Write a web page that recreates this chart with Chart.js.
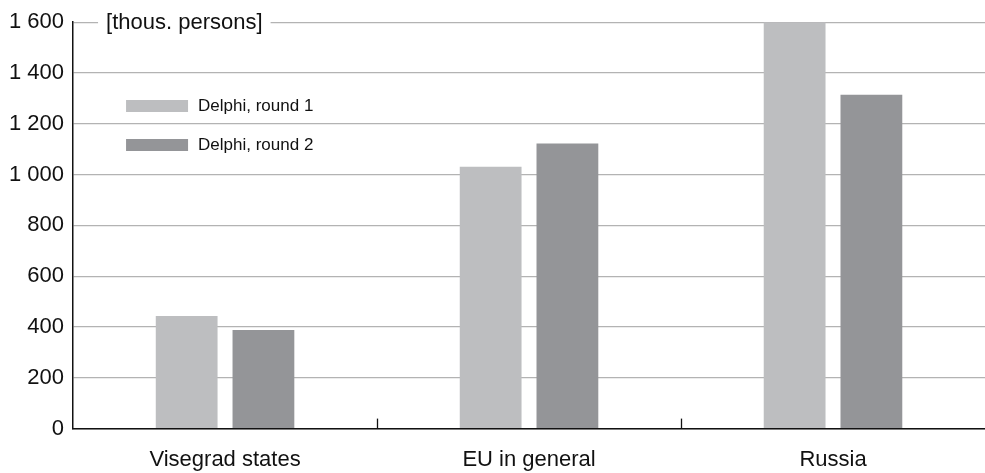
<!DOCTYPE html>
<html>
<head>
<meta charset="utf-8">
<script src="https://cdn.jsdelivr.net/npm/chart.js@4"></script>
<style>
  html, body { margin: 0; padding: 0; background: #fff; }
  #wrap { width: 985px; height: 473px; }
</style>
</head>
<body>
<div id="wrap"><canvas id="chart"></canvas></div>
<script>
// data
const categories = ['Visegrad states', 'EU in general', 'Russia'];
const round1 = [443, 1031, 1600];
const round2 = [388, 1122, 1314];
const seriesNames = ['Delphi, round 1', 'Delphi, round 2'];
const unitLabel = '[thous. persons]';

const FONT = "'Liberation Sans', Arial, sans-serif";

// space as thousands separator: 1 600
function fmt(v) {
    return String(v).replace(/\B(?=(\d{3})+(?!\d))/g, ' ');
}

// unit label on the top gridline, legend inside the plot, inner ticks between categories
const extras = {
    id: 'extras',
    afterDraw(chart) {
        const ctx = chart.ctx;
        const area = chart.chartArea;
        const xs = chart.scales.x;
        const yTop = chart.scales.y.getPixelForValue(1600);
        ctx.save();

        // little upward ticks between the categories
        ctx.strokeStyle = '#111';
        ctx.lineWidth = 1.3;
        for (let i = 0; i < categories.length - 1; i++) {
            const x = Math.round((xs.getPixelForTick(i) + xs.getPixelForTick(i + 1)) / 2) + 0.5;
            ctx.beginPath();
            ctx.moveTo(x, area.bottom);
            ctx.lineTo(x, area.bottom - 10);
            ctx.stroke();
        }

        ctx.font = '22px ' + FONT;
        const w = ctx.measureText(unitLabel).width;
        ctx.fillStyle = '#fff';
        ctx.fillRect(area.left + 25, yTop - 12, w + 16, 24);
        ctx.fillStyle = '#111';
        ctx.textBaseline = 'middle';
        ctx.fillText(unitLabel, area.left + 33, yTop + 1);

        // legend
        ctx.font = '17px ' + FONT;
        chart.data.datasets.forEach(function(ds, i) {
            const y = 100 + i * 39;
            ctx.fillStyle = ds.backgroundColor;
            ctx.fillRect(area.left + 53, y, 62, 12);
            ctx.fillStyle = '#111';
            ctx.fillText(ds.label, area.left + 125, y + 6);
        });
        ctx.restore();
    }
};

new Chart(document.getElementById('chart'), {
    type: 'bar',
    data: {
        labels: categories,
        datasets: [{
            label: seriesNames[0],
            data: round1,
            backgroundColor: '#bdbec0'
        }, {
            label: seriesNames[1],
            data: round2,
            backgroundColor: '#949598'
        }]
    },
    options: {
        responsive: true,
        maintainAspectRatio: false,
        animation: false,
        categoryPercentage: 0.505,
        barPercentage: 0.805,
        layout: { padding: { left: 0, top: 14, right: 0, bottom: -18 } },
        plugins: {
            legend: { display: false },
            tooltip: { enabled: false }
        },
        scales: {
            x: {
                offset: true,
                grid: { display: false, drawTicks: false },
                border: { color: '#111', width: 1.5 },
                ticks: {
                    padding: 18,
                    color: '#111',
                    font: { family: FONT, size: 22 }
                }
            },
            y: {
                min: 0,
                max: 1600,
                grid: {
                    drawTicks: false,
                    color: '#b3b3b3',
                    lineWidth: 1.3
                },
                border: { color: '#111', width: 1.5 },
                ticks: {
                    stepSize: 200,
                    padding: 9,
                    color: '#111',
                    font: { family: FONT, size: 22 },
                    callback: function(v) { return fmt(v); }
                }
            }
        }
    },
    plugins: [extras]
});
</script>
</body>
</html>
